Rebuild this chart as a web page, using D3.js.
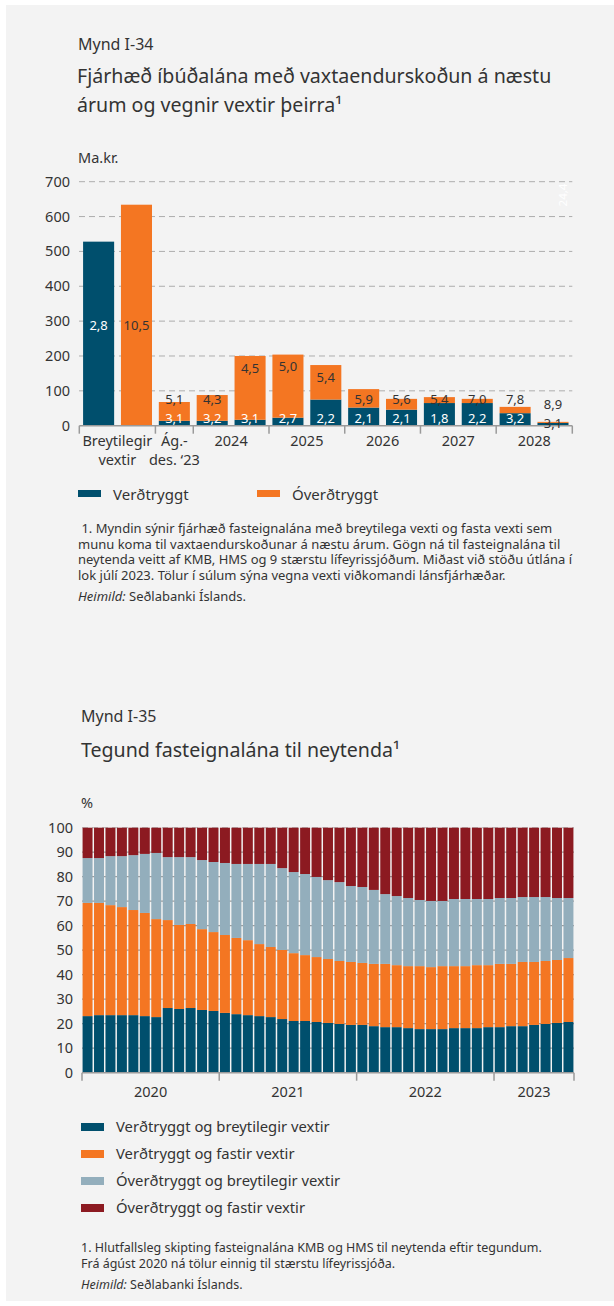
<!DOCTYPE html>
<html>
<head>
<meta charset="utf-8">
<script src="https://cdn.jsdelivr.net/npm/d3@7"></script>
<style>
  html, body { margin: 0; padding: 0; background: #fff; }
  svg { display: block; font-family: "Noto Sans", "Open Sans", sans-serif; }
</style>
</head>
<body>
<svg id="chart" width="614" height="1306"></svg>
<script>
// ---------- Mynd I-34 data ----------
const barKeys = ["Breytilegir verðtryggt","Breytilegir óverðtryggt","Ág.-des. '23","2024 H1","2024 H2","2025 H1","2025 H2","2026 H1","2026 H2","2027 H1","2027 H2","2028 H1","2028 H2"];
const verdtryggt  = [528, 0, 14, 14, 17, 23, 75, 52, 46, 65, 65, 36, 8];
const overdtryggt = [0, 634, 54, 74, 183, 181, 99, 53, 31, 17, 12, 18, 3];
const vextirVerd  = [2.8, null, 3.1, 3.2, 3.1, 2.7, 2.2, 2.1, 2.1, 1.8, 2.2, 3.2, 3.1];
const vextirOverd = [null, 10.5, 5.1, 4.3, 4.5, 5.0, 5.4, 5.9, 5.6, 5.4, 7.0, 7.8, 8.9];
const groupLabels = [["Breytilegir","vextir"],["Ág.-","des. ‘23"],["2024"],["2025"],["2026"],["2027"],["2028"]];
const groupSizes  = [2, 1, 2, 2, 2, 2, 2];
const yTicks1 = [0, 100, 200, 300, 400, 500, 600, 700];
const series1 = ["Verðtryggt", "Óverðtryggt"];

// ---------- Mynd I-35 data ----------
const months = ["2020-01","2020-02","2020-03","2020-04","2020-05","2020-06","2020-07","2020-08","2020-09","2020-10","2020-11","2020-12",
  "2021-01","2021-02","2021-03","2021-04","2021-05","2021-06","2021-07","2021-08","2021-09","2021-10","2021-11","2021-12",
  "2022-01","2022-02","2022-03","2022-04","2022-05","2022-06","2022-07","2022-08","2022-09","2022-10","2022-11","2022-12",
  "2023-01","2023-02","2023-03","2023-04","2023-05","2023-06","2023-07"];
const verdBreyt = [23.1,23.5,23.5,23.5,23.5,23.1,22.7,26.4,26.0,26.4,25.6,25.2,
  24.4,23.9,23.5,23.1,22.7,21.9,21.1,21.1,20.7,20.3,19.9,19.5,
  19.5,19.0,18.6,18.6,18.2,17.8,17.8,17.8,18.2,18.2,18.2,18.6,
  18.6,19.0,19.0,19.5,19.9,20.3,20.7];
const verdFast = [46.2,45.8,44.9,44.1,42.9,42.1,40.0,35.9,34.3,34.3,33.0,32.2,
  31.8,31.1,30.6,29.4,28.6,28.2,27.7,26.9,26.5,26.1,25.7,25.7,
  25.3,25.4,25.8,25.3,25.3,25.7,25.3,25.7,25.3,25.3,25.7,25.3,
  25.8,25.4,26.2,25.7,25.7,25.7,26.1];
const overdBreyt = [18.3,18.3,20.0,20.8,22.4,24.1,27.0,25.7,27.7,27.3,28.2,28.6,
  29.4,30.2,31.1,32.7,33.9,33.4,33.1,33.1,32.7,32.2,32.2,31.0,
  31.0,30.2,28.5,28.2,27.8,27.0,27.0,26.6,27.4,27.4,27.0,27.0,
  26.9,26.9,26.5,26.5,26.1,25.3,24.5];
const overdFast = [12.4,12.4,11.6,11.6,11.2,10.7,10.3,12.0,12.0,12.0,13.2,14.0,
  14.4,14.8,14.8,14.8,14.8,16.5,18.1,18.9,20.1,21.4,22.2,23.8,
  24.2,25.4,27.1,27.9,28.7,29.5,29.9,29.9,29.1,29.1,29.1,29.1,
  28.7,28.7,28.3,28.3,28.3,28.7,28.7];
const years = ["2020","2021","2022","2023"];
const yTicks2 = [0,10,20,30,40,50,60,70,80,90,100];
const series2 = ["Verðtryggt og breytilegir vextir","Verðtryggt og fastir vextir","Óverðtryggt og breytilegir vextir","Óverðtryggt og fastir vextir"];

// ---------- styles ----------
const C_DARK = "#004f6d", C_ORANGE = "#f47622", C_GREY = "#93aebc", C_RED = "#8c1a21";
const TEXT = "#333333";
const isl = d3.formatLocale({decimal: ",", thousands: ".", grouping: [3], currency: ["", " kr."]});
const fmt = isl.format(".1f");

const svg = d3.select("#chart");
svg.append("rect").attr("x", 6).attr("y", 5).attr("width", 608).attr("height", 1296).attr("fill", "#f3f3f3");

function txt(g, x, y, s, size, opts = {}) {
  const t = g.append("text").attr("x", x).attr("y", y).attr("font-size", size)
    .attr("fill", opts.fill || TEXT).attr("text-anchor", opts.anchor || "start").text(s);
  if (opts.italic) t.attr("font-style", "italic");
  return t;
}

// =================== Chart 1 ===================
const g1 = svg.append("g");
txt(g1, 78, 50, "Mynd I-34", 16);
txt(g1, 77, 83, "Fjárhæð íbúðalána með vaxtaendurskoðun á næstu", 19.6);
txt(g1, 77, 112, "árum og vegnir vextir þeirra¹", 19.6);
txt(g1, 78, 163, "Ma.kr.", 14.5);

const x1 = d3.scaleBand().domain(barKeys).range([79.3, 572.3]).paddingInner(0.18).paddingOuter(0.1);
const y1 = d3.scaleLinear().domain([0, 700]).range([425.7, 181.7]);

// gridlines
g1.append("g").selectAll("line").data(yTicks1.filter(d => d > 0)).join("line")
  .attr("x1", 79).attr("x2", 572.3).attr("y1", d => y1(d)).attr("y2", d => y1(d))
  .attr("stroke", "#adadad").attr("stroke-width", 1).attr("stroke-dasharray", "6,4");

// y tick labels
g1.append("g").selectAll("text").data(yTicks1).join("text")
  .attr("x", 70).attr("y", d => y1(d)).attr("dy", "0.35em").attr("text-anchor", "end")
  .attr("font-size", 14.5).attr("fill", TEXT).text(d => d);

// stacked bars
const rows1 = barKeys.map((k, i) => ({key: k, v: verdtryggt[i], o: overdtryggt[i]}));
const stack1 = d3.stack().keys(["v", "o"])(rows1);
const cols1 = [C_DARK, C_ORANGE];
stack1.forEach((s, si) => {
  g1.append("g").selectAll("rect").data(s).join("rect")
    .attr("x", d => x1(d.data.key)).attr("width", x1.bandwidth())
    .attr("y", d => y1(d[1])).attr("height", d => y1(d[0]) - y1(d[1]))
    .attr("fill", cols1[si]);
});

// axis line + ticks at group boundaries
g1.append("line").attr("x1", 79.3).attr("x2", 572.3).attr("y1", y1(0)).attr("y2", y1(0))
  .attr("stroke", "#9a9a9a").attr("stroke-width", 1.5);
const step1 = x1.step();
const bounds = [];
let idx = 0;
bounds.push(79.3);
groupSizes.forEach(n => { idx += n; bounds.push(idx < barKeys.length ? x1(barKeys[idx]) - step1 * x1.paddingInner() / 2 : 572.3); });
g1.append("g").selectAll("line").data(bounds).join("line")
  .attr("x1", d => d).attr("x2", d => d).attr("y1", y1(0)).attr("y2", y1(0) + 8)
  .attr("stroke", "#9a9a9a").attr("stroke-width", 1.5);
groupLabels.forEach((lines, gi) => {
  const cx = (bounds[gi] + bounds[gi + 1]) / 2;
  lines.forEach((l, li) => txt(g1, cx, 446 + li * 19, l, 14.5, {anchor: "middle"}));
});

// rate labels
const base = y1(0);
rows1.forEach((r, i) => {
  const cx = x1(r.key) + x1.bandwidth() / 2;
  const small = r.v > 0 && (y1(0) - y1(r.v)) < 4;
  const darkY = small ? base - 2 : base - 7;
  if (r.v > 0 && r.o === 0) {
    txt(g1, cx, base - 100, fmt(vextirVerd[i]), 13, {anchor: "middle", fill: "#ffffff"}).attr("dy", "0.35em");
  } else if (r.o > 0 && r.v === 0) {
    txt(g1, cx, base - 100, fmt(vextirOverd[i]), 13, {anchor: "middle"}).attr("dy", "0.35em");
  } else {
    txt(g1, cx, darkY, fmt(vextirVerd[i]), 13, {anchor: "middle", fill: small ? TEXT : "#ffffff"}).attr("dy", "0.35em");
    const top = y1(r.v + r.o);
    const oy = Math.min(top + 12, darkY - 19);
    txt(g1, cx, oy, fmt(vextirOverd[i]), 13, {anchor: "middle"}).attr("dy", "0.35em");
  }
});
// faint rotated label at top-right
g1.append("text").attr("transform", "translate(567,195) rotate(-90)").attr("text-anchor", "middle")
  .attr("font-size", 11.5).attr("fill", "#ffffff").text("24,4");

// legend 1
const leg1 = g1.append("g");
series1.forEach((s, i) => {
  const lx = i === 0 ? 78 : 257;
  leg1.append("rect").attr("x", lx).attr("y", 490).attr("width", 23).attr("height", 7).attr("fill", cols1[i]);
  txt(leg1, lx + 35, 500, s, 15);
});

// footnote 1
const fn1 = [" 1. Myndin sýnir fjárhæð fasteignalána með breytilega vexti og fasta vexti sem",
  "munu koma til vaxtaendurskoðunar á næstu árum. Gögn ná til fasteignalána til",
  "neytenda veitt af KMB, HMS og 9 stærstu lífeyrissjóðum. Miðast við stöðu útlána í",
  "lok júlí 2023. Tölur í súlum sýna vegna vexti viðkomandi lánsfjárhæðar."];
fn1.forEach((l, i) => txt(g1, 78, 533 + i * 15.5, l, 13).attr("xml:space", "preserve"));
const h1 = txt(g1, 78, 601, "", 13);
h1.append("tspan").attr("font-style", "italic").text("Heimild:");
h1.append("tspan").text(" Seðlabanki Íslands.");

// =================== Chart 2 ===================
const g2 = svg.append("g");
txt(g2, 81, 722, "Mynd I-35", 16);
txt(g2, 81, 757, "Tegund fasteignalána til neytenda¹", 19.6);
txt(g2, 81, 808, "%", 14.5);

const x2 = d3.scaleBand().domain(months).range([82, 574]).paddingInner(0.13).paddingOuter(0.05);
const y2 = d3.scaleLinear().domain([0, 100]).range([1072.7, 827.7]);

g2.append("g").selectAll("line").data(yTicks2.filter(d => d > 0)).join("line")
  .attr("x1", 82).attr("x2", 574).attr("y1", d => y2(d)).attr("y2", d => y2(d))
  .attr("stroke", d => d === 100 ? "#bdbdbd" : "#9d9d9d").attr("stroke-width", 1.2)
  .attr("stroke-dasharray", d => d === 100 ? "6,4" : null);

g2.append("g").selectAll("text").data(yTicks2).join("text")
  .attr("x", 73).attr("y", d => y2(d)).attr("dy", "0.35em").attr("text-anchor", "end")
  .attr("font-size", 14.5).attr("fill", TEXT).text(d => d);

const rows2 = months.map((m, i) => ({m, a: verdBreyt[i], b: verdFast[i], c: overdBreyt[i], d: overdFast[i]}));
const stack2 = d3.stack().keys(["a", "b", "c", "d"])(rows2);
const cols2 = [C_DARK, C_ORANGE, C_GREY, C_RED];
stack2.forEach((s, si) => {
  g2.append("g").selectAll("rect").data(s).join("rect")
    .attr("x", d => x2(d.data.m)).attr("width", x2.bandwidth())
    .attr("y", d => y2(d[1])).attr("height", d => y2(d[0]) - y2(d[1]))
    .attr("fill", cols2[si]);
});

g2.append("line").attr("x1", 82).attr("x2", 574).attr("y1", y2(0)).attr("y2", y2(0))
  .attr("stroke", "#9a9a9a").attr("stroke-width", 1.5);
const yb = years.map(y => x2(y + "-01") - x2.step() * x2.paddingInner() / 2);
yb[0] = 82;
const ybAll = yb.concat([574]);
g2.append("g").selectAll("line").data(ybAll).join("line")
  .attr("x1", d => d).attr("x2", d => d).attr("y1", y2(0)).attr("y2", y2(0) + 8)
  .attr("stroke", "#9a9a9a").attr("stroke-width", 1.5);
years.forEach((y, i) => txt(g2, (ybAll[i] + ybAll[i + 1]) / 2, 1097, y, 14.5, {anchor: "middle"}));

// legend 2
series2.forEach((s, i) => {
  const ly = 1123 + i * 27;
  g2.append("rect").attr("x", 81).attr("y", ly).attr("width", 23).attr("height", 8).attr("fill", cols2[i]);
  txt(g2, 116, ly + 9, s, 14.8);
});

// footnote 2
txt(g2, 81, 1252, "1. Hlutfallsleg skipting fasteignalána KMB og HMS til neytenda eftir tegundum.", 12.5);
txt(g2, 81, 1268, "Frá ágúst 2020 ná tölur einnig til stærstu lífeyrissjóða.", 12.5);
const h2 = txt(g2, 81, 1289, "", 12.5);
h2.append("tspan").attr("font-style", "italic").text("Heimild:");
h2.append("tspan").text(" Seðlabanki Íslands.");
</script>
</body>
</html>
